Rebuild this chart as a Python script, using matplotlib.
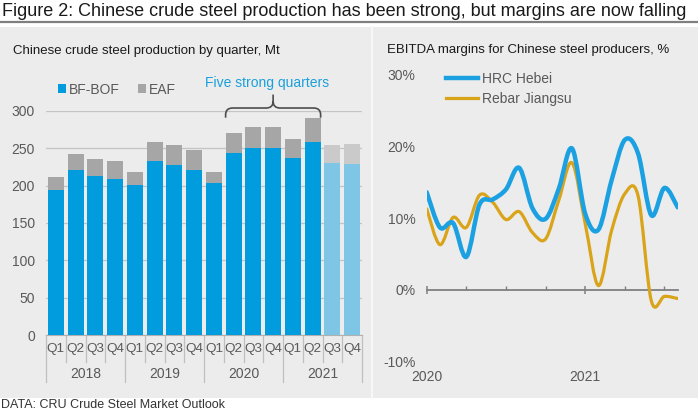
import numpy as np
import matplotlib
matplotlib.use("Agg")
import matplotlib.pyplot as plt
from matplotlib.patches import Patch, PathPatch, Rectangle
from matplotlib.lines import Line2D
from matplotlib.path import Path

plt.rcParams['font.family'] = ['Liberation Sans', 'DejaVu Sans']

# ---- data: quarterly crude steel production, Mt ----
years = ['2018', '2019', '2020', '2021']
quarters = ['Q1', 'Q2', 'Q3', 'Q4'] * 4
bf_bof = [194, 221, 213, 209, 201, 233, 228, 221, 204, 244, 250, 250, 237, 259, 231, 229]
total = [212, 242, 236, 233, 218, 258, 254, 248, 218, 271, 279, 279, 263, 291, 255, 256]
forecast = [False] * 14 + [True] * 2

# ---- data: monthly EBITDA margins, Jan 2020 .. Aug 2021, % ----
months = list(range(20))
hrc_hebei = [13.6, 8.7, 9.3, 4.6, 11.9, 12.6, 14.0, 17.0, 11.4, 9.9,
             14.1, 19.7, 10.6, 8.4, 15.3, 20.9, 19.0, 10.4, 14.2, 11.5]
rebar_jiangsu = [11.3, 6.3, 10.1, 8.7, 13.2, 12.2, 9.8, 10.9, 8.0, 7.1,
                 12.5, 17.7, 9.2, 0.6, 8.3, 13.4, 13.1, -1.5, -0.9, -1.2]

BLUE = '#009CDE'
BLUE_LT = '#7FC5E6'
GREY = '#A6A6A6'
GREY_LT = '#CACACA'
HRC_C = '#1BA1E2'
REBAR_C = '#D9A419'
TXT = '#595959'
PANEL = '#ECECEC'

W, H = 698, 411
fig = plt.figure(figsize=(W / 100, H / 100), dpi=100)
fig.patch.set_facecolor('white')


def fx(px):
    return px / W


def fy(py):
    return 1 - py / H


# background panel, title rule, divider
fig.add_artist(Rectangle((0, fy(398)), 1, (398 - 27) / H, transform=fig.transFigure,
                         facecolor=PANEL, edgecolor='none', zorder=-5))
fig.add_artist(Line2D([0, 1], [fy(22), fy(22)], transform=fig.transFigure,
                      color='#7F7F7F', lw=1.6, zorder=-4))
fig.add_artist(Line2D([fx(372), fx(372)], [fy(27), fy(398)], transform=fig.transFigure,
                      color='#F7F7F7', lw=1.5, zorder=-4))

fig.text(fx(2), fy(11), 'Figure 2: Chinese crude steel production has been strong, but margins are now falling',
         fontsize=13, color='#1A1A1A', va='center', ha='left')
fig.text(fx(1), fy(405), 'DATA: CRU Crude Steel Market Outlook', fontsize=9,
         color='#333333', va='center', ha='left')
fig.text(fx(13), fy(51), 'Chinese crude steel production by quarter, Mt', fontsize=9.5,
         color='#1A1A1A', va='center', ha='left')
fig.text(fx(387), fy(50), 'EBITDA margins for Chinese steel producers, %', fontsize=9.5,
         color='#1A1A1A', va='center', ha='left')

# ---------------- left: bars ----------------
ax = fig.add_axes([fx(46), fy(335), fx(362 - 46), (335 - 111) / H])
ax.set_facecolor('none')
x = np.arange(len(bf_bof))
eaf = np.array(total) - np.array(bf_bof)
c_bf = [BLUE_LT if f else BLUE for f in forecast]
c_eaf = [GREY_LT if f else GREY for f in forecast]
ax.bar(x, bf_bof, width=0.81, color=c_bf, zorder=3)
ax.bar(x, eaf, bottom=bf_bof, width=0.81, color=c_eaf, zorder=3)
ax.set_xlim(-0.5, len(x) - 0.5)
ax.set_ylim(0, 300)
ax.set_yticks(range(0, 301, 50))
ax.yaxis.grid(True, color='#C4C4C4', lw=0.9, zorder=0)
for s in ['top', 'right', 'left']:
    ax.spines[s].set_visible(False)
ax.spines['bottom'].set_color('#B0B0B0')
ax.tick_params(axis='y', length=0, pad=8, labelsize=10, labelcolor=TXT)
ax.set_xticks(x)
ax.set_xticklabels(quarters)
ax.tick_params(axis='x', length=0, pad=6, labelsize=9.7, labelcolor=TXT)

trans = ax.get_xaxis_transform()
for b in np.arange(-0.5, len(x)):
    yr_edge = (b + 0.5) % 4 == 0
    ax.plot([b, b], [0, -0.21 if yr_edge else -0.12], transform=trans, clip_on=False,
            color='#BFBFBF', lw=0.9)
for i, yr in enumerate(years):
    ax.text(i * 4 + 1.5, -0.174, yr, transform=trans, ha='center', va='center',
            fontsize=10, color=TXT)

ax.legend(handles=[Patch(facecolor=BLUE, label='BF-BOF'), Patch(facecolor=GREY, label='EAF')],
          loc='center left', bbox_to_anchor=(fx(58), fy(89.5)), bbox_transform=fig.transFigure,
          ncol=2, frameon=False, fontsize=10, handlelength=0.55, handleheight=0.55,
          handletextpad=0.25, columnspacing=1.3, borderpad=0, borderaxespad=0,
          labelcolor=TXT)

# brace over the five strong quarters
x0, x1 = 9 - 0.405, 13 + 0.405
xc = (x0 + x1) / 2
rx, ry = 0.35, 9
yb, ym, yt = 291, 304, 322
verts = [(x0, yb), (x0, ym - ry), (x0, ym), (x0 + rx, ym), (xc - rx, ym), (xc, ym), (xc, ym + ry),
         (xc, yt),
         (xc, ym + ry), (xc, ym), (xc + rx, ym), (x1 - rx, ym), (x1, ym), (x1, ym - ry), (x1, yb)]
codes = [Path.MOVETO, Path.LINETO, Path.CURVE3, Path.CURVE3, Path.LINETO, Path.CURVE3, Path.CURVE3,
         Path.LINETO,
         Path.MOVETO, Path.CURVE3, Path.CURVE3, Path.LINETO, Path.CURVE3, Path.CURVE3, Path.LINETO]
ax.add_patch(PathPatch(Path(verts, codes), facecolor='none', edgecolor='#4D4D4D', lw=1.2,
                       clip_on=False, zorder=4))
ax.text(xc - 0.3, 338, 'Five strong quarters', ha='center', va='center', fontsize=10,
        color='#19A0DC', clip_on=False)

# ---------------- right: margins ----------------
ax2 = fig.add_axes([fx(426.7), fy(361.7), fx(677.7 - 426.7), (361.7 - 74.5) / H])
ax2.set_facecolor('none')
ax2.set_xlim(0, 19)
ax2.set_ylim(-10, 30)


def smooth_path(xs, ys):
    # Excel-style smoothed line: cubic Bezier through every data point
    p = np.column_stack([xs, ys]).astype(float)
    n = len(p)
    verts = [tuple(p[0])]
    codes = [Path.MOVETO]
    for i in range(n - 1):
        pm = p[max(i - 1, 0)]
        pn = p[min(i + 2, n - 1)]
        c1 = p[i] + (p[i + 1] - pm) / 6
        c2 = p[i + 1] - (pn - p[i]) / 6
        verts += [tuple(c1), tuple(c2), tuple(p[i + 1])]
        codes += [Path.CURVE4] * 3
    return Path(verts, codes)


ax2.add_patch(PathPatch(smooth_path(months, rebar_jiangsu), facecolor='none', edgecolor=REBAR_C,
                        lw=2.3, capstyle='round', joinstyle='round', zorder=3))
ax2.add_patch(PathPatch(smooth_path(months, hrc_hebei), facecolor='none', edgecolor=HRC_C,
                        lw=3.2, capstyle='round', joinstyle='round', zorder=4))

for s in ['top', 'right', 'left']:
    ax2.spines[s].set_visible(False)
ax2.spines['bottom'].set_position(('data', 0))
ax2.spines['bottom'].set_color('#808080')
ax2.spines['bottom'].set_linewidth(1.3)
ax2.set_yticks(range(-10, 31, 10))
ax2.set_yticklabels([f'{v}%' for v in range(-10, 31, 10)])
ax2.tick_params(axis='y', length=0, pad=8, labelsize=10, labelcolor=TXT)
ax2.set_xticks([0, 12])
ax2.set_xticks([3, 6, 9, 15, 18], minor=True)
ax2.set_xticklabels([])
ax2.tick_params(axis='x', which='major', direction='inout', length=5.5, width=1.1, color='#808080')
ax2.tick_params(axis='x', which='minor', direction='in', length=2.6, width=1.0, color='#808080')
trans2 = ax2.get_xaxis_transform()
for m, yr in zip([0, 12], ['2020', '2021']):
    ax2.text(m, -0.052, yr, transform=trans2, ha='center', va='center', fontsize=10, color=TXT)

ax2.legend(handles=[Line2D([], [], color=HRC_C, lw=3.2, label='HRC Hebei'),
                    Line2D([], [], color=REBAR_C, lw=2.3, label='Rebar Jiangsu')],
           loc='upper left', bbox_to_anchor=(fx(446), fy(72)), bbox_transform=fig.transFigure,
           frameon=False, fontsize=10, handlelength=2.3, handletextpad=0.3, labelspacing=0.45,
           borderpad=0, borderaxespad=0, labelcolor=TXT)

fig.savefig('out.png', dpi=100)
